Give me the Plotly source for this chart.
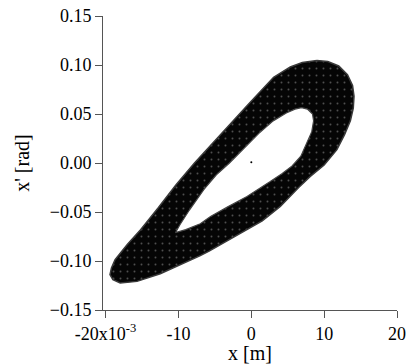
import plotly.graph_objects as go

# Phase-space distribution boundaries (x in units of 1e-3 m, x' in rad)
outer_x = [9.0, 10.5, 12.0, 13.2, 13.9, 14.1, 14.0, 13.6, 12.8, 11.75, 10.0, 8.1, 6.5, 5.35, 3.98, 1.5,
           -0.6, -3.3, -5.8, -7.0, -9.74, -12.5, -15.7, -18.0, -19.0, -19.4, -19.2, -18.7, -17.0,
           -15.2, -12.8, -10.3, -7.8, -5.0, -2.2, -0.4, 1.3, 3.06, 5.35, 7.0, 9.0]
outer_y = [0.1045, 0.1035, 0.099, 0.090, 0.079, 0.068, 0.056, 0.043, 0.029, 0.0136, -0.002, -0.0137,
           -0.025, -0.0341, -0.0443, -0.059, -0.068, -0.079, -0.090, -0.0945, -0.1038, -0.113,
           -0.1208, -0.1224, -0.119, -0.114, -0.107, -0.0987, -0.083, -0.068, -0.046, -0.022,
           0.0, 0.023, 0.045, 0.060, 0.0735, 0.0875, 0.098, 0.1025, 0.1045]

inner_x = [6.9, 7.7, 8.4, 8.55, 8.3, 7.65, 6.8, 5.6, 4.2, 2.6, 1.23, -0.59, -3.3, -5.6, -7.0, -9.0,
           -10.4, -9.8, -8.5, -6.5, -4.8, -3.0, -1.0, 1.0, 3.0, 4.8, 6.0, 6.9]
inner_y = [0.0565, 0.055, 0.050, 0.043, 0.032, 0.0204, 0.007, -0.003, -0.011, -0.019, -0.0255, -0.0341,
           -0.045, -0.0545, -0.062, -0.068, -0.071, -0.063, -0.048, -0.027, -0.012, 0.0, 0.015, 0.030,
           0.043, 0.051, 0.055, 0.0565]

center_x = [0.0]
center_y = [0.0007]

x_tickvals = [-20, -10, 0, 10, 20]
x_ticktext = ["-20x10<sup>-3</sup>", "-10", "0", "10", "20"]
y_tickvals = [-0.15, -0.10, -0.05, 0.00, 0.05, 0.10, 0.15]

fig = go.Figure()
fig.add_trace(go.Scatter(x=outer_x, y=outer_y, mode="lines", fill="toself",
                         fillcolor="#0d0d0d",
                         fillpattern=dict(shape=".", bgcolor="#050505", fgcolor="#9a9a9a",
                                          size=7, solidity=0.06),
                         line=dict(color="#3a3a3a", width=1.5),
                         hoverinfo="skip", showlegend=False))
fig.add_trace(go.Scatter(x=inner_x, y=inner_y, mode="lines", fill="toself",
                         fillcolor="white", line=dict(color="#444444", width=1.2),
                         hoverinfo="skip", showlegend=False))
fig.add_trace(go.Scatter(x=center_x, y=center_y, mode="markers",
                         marker=dict(color="black", size=2), showlegend=False))

font_family = "Liberation Serif"
axis_common = dict(showline=True, linecolor="#555555", linewidth=1, ticks="outside",
                   ticklen=7, tickcolor="#555555", tickwidth=1, showgrid=False, zeroline=False,
                   tickfont=dict(family=font_family, size=18, color="black"),
                   automargin=False, mirror=False)

fig.update_layout(
    width=408, height=364,
    margin=dict(l=103, r=11, t=16, b=54),
    plot_bgcolor="white", paper_bgcolor="white",
    font=dict(family=font_family, color="black"),
    xaxis=dict(range=[-20.36, 20.0], tickvals=x_tickvals, ticktext=x_ticktext,
               title=dict(text="x [m]", font=dict(family=font_family, size=20, color="black"),
                          standoff=2),
               **axis_common),
    yaxis=dict(range=[-0.15, 0.15], tickvals=y_tickvals, tickformat=".2f",
               title=dict(text="x' [rad]", font=dict(family=font_family, size=20, color="black"),
                          standoff=14),
               **axis_common),
)

fig.write_html("out.html")
